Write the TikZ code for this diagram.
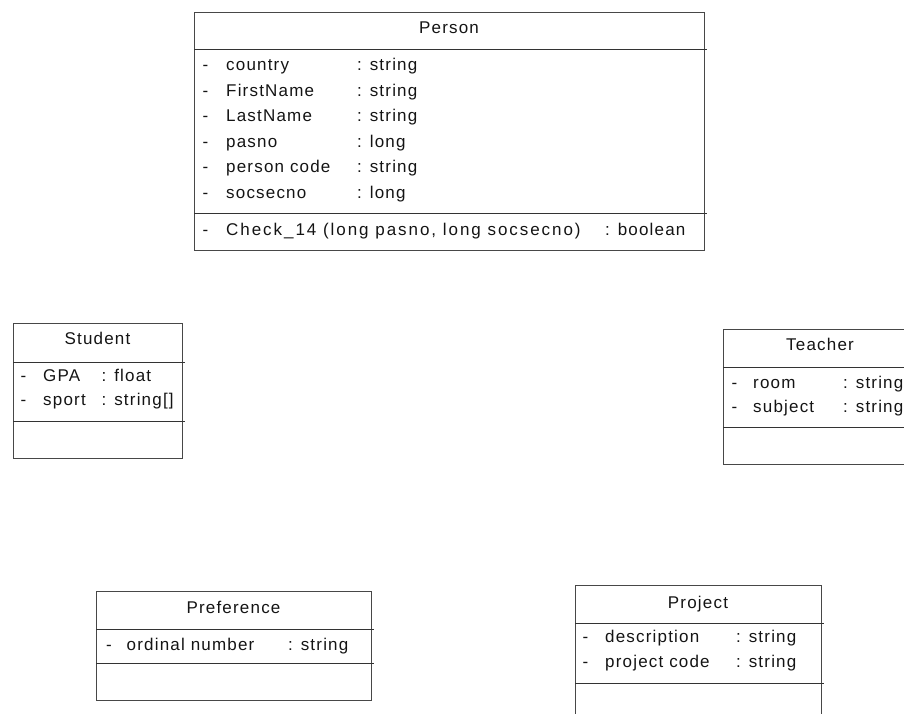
\documentclass[tikz,border=0pt]{standalone}
\usepackage{fontspec}
\setmainfont{Liberation Sans}[LetterSpace=7.0]
\begin{document}
\begin{tikzpicture}[x=1pt,y=-1pt,
  frame/.style={draw=black!72,line width=0.9pt},
  sep/.style={draw=black!80,line width=0.9pt},
  txt/.style={anchor=base west,inner sep=0pt,text=black!92,
    font=\fontsize{17pt}{20pt}\selectfont},
  ttl/.style={anchor=base,inner sep=0pt,text=black!92,
    font=\fontsize{17pt}{20pt}\selectfont},
  wide/.style={font=\fontsize{17pt}{20pt}\selectfont\addfontfeature{LetterSpace=11.5}}]
\useasboundingbox (0,0) rectangle (904,714);
\clip (0,0) rectangle (904,714);

% ---------- Person ----------
\draw[frame] (194,12) rectangle (704,250);
\draw[sep] (194,49) -- (707,49);
\draw[sep] (194,213) -- (707,213);
\node[ttl] (personT) at (449,34) {Person};
\foreach \n/\a/\t/\y in {p1/country/string/71,p2/FirstName/string/96.5,
    p3/LastName/string/122,p4/pasno/long/147.5,p5/person code/string/173,
    p6/socsecno/long/198.5}{
  \node[txt] (\n d) at (202.5,\y) {-};
  \node[txt] (\n n) at (226,\y) {\a};
  \node[txt] (\n t) at (357,\y) {: \t};
}
\node[txt] (pmd) at (202.5,235) {-};
\node[txt,wide] (pm) at (226,235) {Check\_14 (long pasno, long socsecno)};
\node[txt] (pmt) at (605,235) {: boolean};

% ---------- Student ----------
\draw[frame] (13,323) rectangle (182,458);
\draw[sep] (13,362) -- (185,362);
\draw[sep] (13,421) -- (185,421);
\node[ttl] (studentT) at (97.5,344) {Student};
\node[txt] (s1d) at (20.5,381) {-};
\node[txt] (s1n) at (43,381) {GPA};
\node[txt] (s1t) at (101.5,381) {: float};
\node[txt] (s2d) at (20.5,405) {-};
\node[txt] (s2n) at (43,405) {sport};
\node[txt] (s2t) at (101.5,405) {: string[]};

% ---------- Teacher ----------
\draw[frame] (930,329) -- (723,329) -- (723,464) -- (930,464);
\draw[sep] (723,367) -- (930,367);
\draw[sep] (723,427) -- (930,427);
\node[ttl] (teacherT) at (820,350) {Teacher};
\node[txt] (t1d) at (731.5,388) {-};
\node[txt] (t1n) at (753,388) {room};
\node[txt] (t1t) at (843,388) {: string};
\node[txt] (t2d) at (731.5,412) {-};
\node[txt] (t2n) at (753,412) {subject};
\node[txt] (t2t) at (843,412) {: string};

% ---------- Preference ----------
\draw[frame] (96,591) rectangle (371,700);
\draw[sep] (96,629) -- (374,629);
\draw[sep] (96,663) -- (374,663);
\node[ttl] (prefT) at (233.5,613) {Preference};
\node[txt] (r1d) at (106,650) {-};
\node[txt] (r1n) at (126.5,650) {ordinal number};
\node[txt] (r1t) at (288,650) {: string};

% ---------- Project ----------
\draw[frame] (575,730) -- (575,585) -- (821,585) -- (821,730);
\draw[sep] (575,623) -- (824,623);
\draw[sep] (575,683) -- (824,683);
\node[ttl] (projT) at (698,608) {Project};
\node[txt] (j1d) at (582.5,642) {-};
\node[txt] (j1n) at (605,642) {description};
\node[txt] (j1t) at (736,642) {: string};
\node[txt] (j2d) at (582.5,667) {-};
\node[txt] (j2n) at (605,667) {project code};
\node[txt] (j2t) at (736,667) {: string};
\end{tikzpicture}
\end{document}
